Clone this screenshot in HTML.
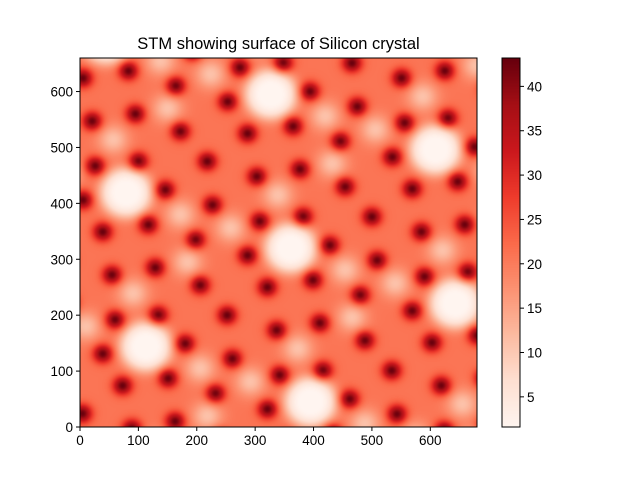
<!DOCTYPE html>
<html><head><meta charset="utf-8"><style>
body{margin:0;background:#fff;width:640px;height:480px;overflow:hidden;font-family:"Liberation Sans",sans-serif}
#wrap{position:relative;width:640px;height:480px}
canvas{position:absolute}
svg{position:absolute;left:0;top:0}
text{font-family:"Liberation Sans",sans-serif;font-size:13.5px;fill:#000}
</style></head><body>
<div id="wrap">
<canvas id="hm" width="397" height="369" style="left:80px;top:58px"></canvas>
<canvas id="cb" width="18" height="369" style="left:502px;top:58px"></canvas>
<svg id="ov" width="640" height="480"></svg>
</div>
<script>
// data (data units: x 0..680, y 0..660; values ~1.5..43)
const latticeOrigin=[79,419];
const latticeA=[282,-99];
const latticeB=[-248,-176];
const darkSpots=[[-53,48],[21,56],[67,5],[38,-57],[-40,-70],[-74,-13],[139,56],[148,-22],[119,-84],[50,-134],[-24,-147],[127,-165]];
const paleSpots=[[93,-39],[179,-63],[105,-124],[-22,95]];
const brightSpots=[[0,0]];
const baseValue=21, darkAmp=22, paleAmp=-10, brightAmp=-20;
const xTicks=[0,100,200,300,400,500,600];
const yTicks=[0,100,200,300,400,500,600];
const cbTicks=[5,10,15,20,25,30,35,40];
const xMax=680,yMax=660,vMin=1.6,vMax=43.2;

const PX0=80,PX1=477,PY0=427,PY1=58;
const sx=x=>PX0+x/xMax*(PX1-PX0);
const sy=y=>PY0-y/yMax*(PY0-PY1);
const stops=[[255,245,240],[254,224,210],[252,187,161],[252,146,114],[251,106,74],[239,59,44],[203,24,29],[165,15,21],[103,0,13]];
function cmap(t){t=Math.max(0,Math.min(1,t))*8;const i=Math.min(7,Math.floor(t)),f=t-i;const a=stops[i],b=stops[i+1];return [a[0]+(b[0]-a[0])*f,a[1]+(b[1]-a[1])*f,a[2]+(b[2]-a[2])*f];}
const spots=[];
for(let i=-6;i<=6;i++)for(let j=-6;j<=6;j++){
 const cx=latticeOrigin[0]+i*latticeA[0]+j*latticeB[0], cy=latticeOrigin[1]+i*latticeA[1]+j*latticeB[1];
 if(cx<-250||cx>930||cy<-250||cy>910)continue;
 darkSpots.forEach(s=>spots.push([cx+s[0],cy+s[1],darkAmp,16,2]));
 paleSpots.forEach(s=>spots.push([cx+s[0],cy+s[1],paleAmp,26,2]));
 brightSpots.forEach(s=>spots.push([cx+s[0],cy+s[1],brightAmp,46,4]));
}
const c=document.getElementById('hm'),ctx=c.getContext('2d');
const W=c.width,H=c.height,img=ctx.createImageData(W,H);
for(let py=0;py<H;py++)for(let px=0;px<W;px++){
 const x=(px+0.5)/W*xMax,y=(1-(py+0.5)/H)*yMax;let v=baseValue;
 for(const s of spots){const dx=x-s[0],dy=y-s[1];if(Math.abs(dx)>110||Math.abs(dy)>110)continue;
  const r2=(dx*dx+dy*dy)/(s[3]*s[3]);v+=s[2]*(s[4]==4?Math.exp(-r2*r2):Math.exp(-r2));}
 const col=cmap((v-vMin)/(vMax-vMin)),k=(py*W+px)*4;
 img.data[k]=col[0];img.data[k+1]=col[1];img.data[k+2]=col[2];img.data[k+3]=255;}
ctx.putImageData(img,0,0);
const cb=document.getElementById('cb'),cctx=cb.getContext('2d');
for(let py=0;py<cb.height;py++){const col=cmap(1-py/(cb.height-1));cctx.fillStyle=`rgb(${col[0]|0},${col[1]|0},${col[2]|0})`;cctx.fillRect(0,py,18,1);}
const ns='http://www.w3.org/2000/svg',ov=document.getElementById('ov');
function add(tag,attrs,txt){const e=document.createElementNS(ns,tag);for(const k in attrs)e.setAttribute(k,attrs[k]);if(txt!==undefined)e.textContent=txt;ov.appendChild(e);return e;}
let e=add('rect',{x:PX0,y:PY1,width:PX1-PX0,height:PY0-PY1,fill:'none',stroke:'#000','stroke-width':1});


e=add('rect',{x:502,y:58,width:18,height:369,fill:'none',stroke:'#000','stroke-width':1});


xTicks.forEach(t=>{const x=sx(t);add('line',{x1:x,x2:x,y1:PY0,y2:PY0+4,stroke:'#000'});
 e=add('text',{x:x,y:PY0+18,'text-anchor':'middle'},t);
 
 });
yTicks.forEach(t=>{const y=sy(t);add('line',{x1:PX0-4,x2:PX0,y1:y,y2:y,stroke:'#000'});
 e=add('text',{x:PX0-7,y:y+5,'text-anchor':'end'},t);
 
 });
cbTicks.forEach(t=>{const y=427-(t-vMin)/(vMax-vMin)*369;add('line',{x1:520,x2:524,y1:y,y2:y,stroke:'#000'});
 e=add('text',{x:527,y:y+5},t);
 
 });
e=add('text',{x:278.5,y:49,'text-anchor':'middle','style':'font-size:16.5px'},'STM showing surface of Silicon crystal');


</script>
</body></html>
